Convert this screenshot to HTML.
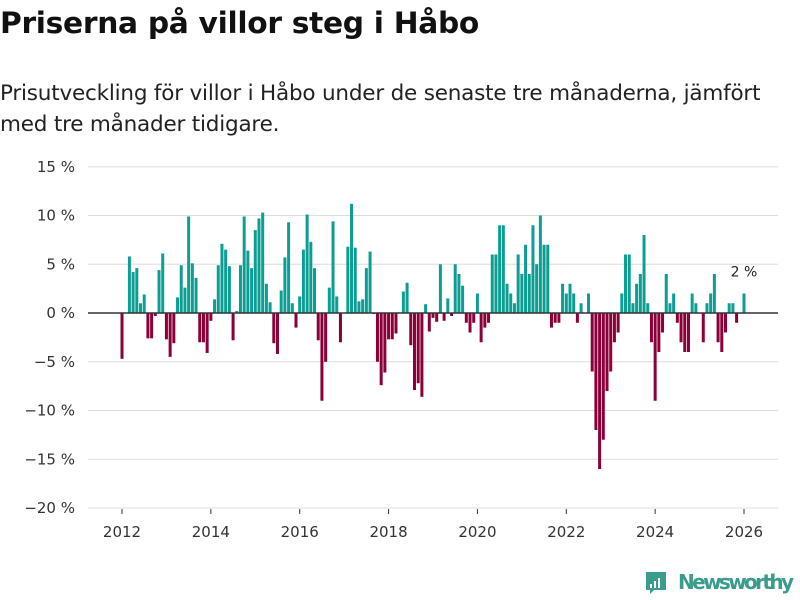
<!DOCTYPE html>
<html><head><meta charset="utf-8">
<style>
html,body{margin:0;padding:0;background:#fff;width:800px;height:600px;overflow:hidden}
body{font-family:"DejaVu Sans","Liberation Sans",sans-serif;color:#111}
#title{position:absolute;left:0;top:6px;font-size:29.7px;font-weight:bold;margin:0;letter-spacing:-0.3px}
#subtitle{position:absolute;left:0;top:78px;font-size:21.5px;line-height:31px;color:#222;margin:0;width:800px;letter-spacing:-0.2px}
svg{position:absolute;left:0;top:0}
</style></head><body>
<h1 id="title">Priserna på villor steg i Håbo</h1>
<p id="subtitle">Prisutveckling för villor i Håbo under de senaste tre månaderna, jämfört<br>med tre månader tidigare.</p>
<svg id="chart" width="800" height="600"></svg>
<script>
const y2012=[-4.7,0,5.8,4.2,4.6,1.0,1.9,-2.6,-2.6,-0.3,4.4,6.1];
const y2013=[-2.7,-4.5,-3.1,1.6,4.9,2.6,9.9,5.1,3.6,-3.0,-3.0,-4.1];
const y2014=[-0.8,1.4,4.9,7.1,6.5,4.8,-2.8,0.2,4.9,9.9,6.4,4.6];
const y2015=[8.5,9.7,10.3,3.0,1.1,-3.1,-4.2,2.3,5.7,9.3,1.0,-1.5];
const y2016=[1.7,6.5,10.1,7.3,4.6,-2.8,-9.0,-5.0,2.6,9.4,1.7,-3.0];
const y2017=[0,6.8,11.2,6.7,1.2,1.4,4.6,6.3,-0.1,-5.0,-7.4,-6.1];
const y2018=[-2.7,-2.7,-2.1,0,2.2,3.1,-3.3,-7.9,-7.2,-8.6,0.9,-1.9];
const y2019=[-0.5,-0.9,5.0,-0.8,1.5,-0.3,5.0,4.0,2.8,-1.0,-2.0,-1.0];
const y2020=[2.0,-3.0,-1.5,-1.0,6,6,9,9,3,2,1,6];
const y2021=[4,7,4,9,5,10,7,7,-1.5,-1,-1,3];
const y2022=[2,3,2,-1,1,0,2,-6,-12,-16,-13,-8];
const y2023=[-6,-3,-2,2,6,6,1,3,4,8,1,-3];
const y2024=[-9,-4,-2,4,1,2,-1,-3,-4,-4,2,1];
const y2025=[0,-3,1,2,4,-3,-4,-2,1,1,-1,0];
const y2026=[2];
const values=[].concat(y2012,y2013,y2014,y2015,y2016,y2017,y2018,y2019,y2020,y2021,y2022,y2023,y2024,y2025,y2026);
const yTicks=[15,10,5,0,-5,-10,-15,-20];
const xTickYears=[2012,2014,2016,2018,2020,2022,2024,2026];
const lastLabel="2 %";

const svg=document.getElementById('chart');
const NS='http://www.w3.org/2000/svg';
function xScale(m){return 122+m*(622/168);}
function yScale(v){return 313-v*(195/20);}
function mk(tag,attrs){const e=document.createElementNS(NS,tag);for(const k in attrs)e.setAttribute(k,attrs[k]);svg.appendChild(e);return e;}

yTicks.forEach(t=>{
  const g=mk('line',{x1:88,x2:778,y1:yScale(t),y2:yScale(t),stroke:'#dddddd','stroke-width':1});
  
  
  const l=mk('text',{x:75,y:yScale(t)+5,'text-anchor':'end','font-size':15,fill:'#333','font-family':'DejaVu Sans, Liberation Sans, sans-serif'});
  l.textContent=(t<0?'\u2212'+Math.abs(t):t)+' %';
  
  
});
xTickYears.forEach(yr=>{
  const x=xScale((yr-2012)*12);
  const tk=mk('line',{x1:x,x2:x,y1:509,y2:514,stroke:'#333','stroke-width':1});
  
  
  const l=mk('text',{x:x,y:537,'text-anchor':'middle','font-size':15,fill:'#333','font-family':'DejaVu Sans, Liberation Sans, sans-serif'});
  l.textContent=yr;
  
  
});
values.forEach((v,i)=>{
  if(v===0)return;
  const x=xScale(i), y0=yScale(0), y1=yScale(v);
  const b=mk('rect',{x:x-1.5,y:Math.min(y0,y1),width:3,height:Math.abs(y1-y0),fill:v>0?'#0d9e93':'#8b0038'});
  
  
});
const zl=mk('line',{x1:88,x2:778,y1:yScale(0),y2:yScale(0),stroke:'#333','stroke-width':1.5});


const lastIdx=values.length-1;
const lab=mk('text',{x:xScale(lastIdx),y:yScale(values[lastIdx])-17,'text-anchor':'middle','font-size':14,fill:'#222','font-family':'DejaVu Sans, Liberation Sans, sans-serif'});
lab.textContent=lastLabel;



const logo=mk('g',{});


const lr=document.createElementNS(NS,'path');lr.setAttribute('d','M646 572 h20 v18 h-12 l-4 4 v-4 h-4 z');lr.setAttribute('fill','#3a9c8c');logo.appendChild(lr);
[[650,584,2,4],[654,581,2,7],[658,578,2,10]].forEach(a=>{const r=document.createElementNS(NS,'rect');r.setAttribute('x',a[0]);r.setAttribute('y',a[1]);r.setAttribute('width',a[2]);r.setAttribute('height',a[3]);r.setAttribute('fill','#fff');logo.appendChild(r);});
const lt=document.createElementNS(NS,'text');lt.setAttribute('x',678);lt.setAttribute('y',589);lt.setAttribute('font-size',20);lt.setAttribute('font-weight','bold');lt.setAttribute('fill','#3a9c8c');lt.setAttribute('font-family','DejaVu Sans, Liberation Sans, sans-serif');lt.setAttribute('textLength','116');lt.textContent='Newsworthy';logo.appendChild(lt);
</script>
</body></html>
